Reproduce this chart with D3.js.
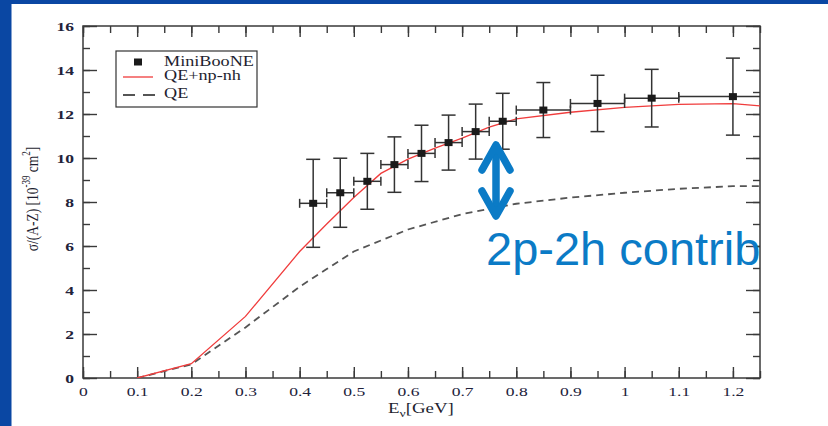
<!DOCTYPE html>
<html><head><meta charset="utf-8">
<script src="https://cdn.jsdelivr.net/npm/d3@7/dist/d3.min.js"></script>
<style>body{margin:0;background:#fff}svg{display:block}</style>
</head><body>
<svg id="c" width="828" height="426"></svg>
<script>
// ---- data ----
const xTicks = [0,0.1,0.2,0.3,0.4,0.5,0.6,0.7,0.8,0.9,1,1.1,1.2];
const yTicks = [0,2,4,6,8,10,12,14,16];
const mbE     = [0.425,0.475,0.525,0.575,0.625,0.675,0.725,0.775,0.85,0.95,1.05,1.2];
const mbLo    = [0.40,0.45,0.50,0.55,0.60,0.65,0.70,0.75,0.80,0.90,1.00,1.10];
const mbHi    = [0.45,0.50,0.55,0.60,0.65,0.70,0.75,0.80,0.90,1.00,1.10,1.30];
const mbSigma = [7.94,8.42,8.94,9.70,10.21,10.70,11.20,11.67,12.18,12.48,12.72,12.79];
const mbErr   = [2.00,1.57,1.27,1.26,1.28,1.25,1.25,1.27,1.25,1.28,1.31,1.75];
const npE     = [0.1,0.2,0.3,0.4,0.45,0.5,0.55,0.6,0.65,0.7,0.75,0.8,0.9,1.0,1.1,1.2,1.25];
const npSigma = [0,0.65,2.8,5.75,7.0,8.2,9.3,9.95,10.45,10.9,11.4,11.78,12.08,12.3,12.44,12.47,12.37];
const qeE     = [0.1,0.2,0.3,0.4,0.45,0.5,0.6,0.7,0.8,0.9,1.0,1.1,1.2,1.25];
const qeSigma = [0,0.62,2.3,4.15,4.95,5.75,6.75,7.45,7.92,8.2,8.42,8.6,8.72,8.72];
const legendLabels = ["MiniBooNE","QE+np-nh","QE"];
const annotation = "2p-2h contrib";

// ---- layout ----
const svg = d3.select("#c");
const L=83,R=760,T=26,B=378, SX=1.3;
const x = d3.scaleLinear().domain([0,1.25]).range([L,R]);
const y = d3.scaleLinear().domain([0,16]).range([B,T]);
const axisCol="#3a3a3a", serif="'Liberation Serif','Times New Roman',serif";

svg.append("rect").attr("width",828).attr("height",426).attr("fill","#fff");
svg.append("rect").attr("x",0).attr("y",0).attr("width",828).attr("height",4).attr("fill","#0a47a3");
svg.append("rect").attr("x",0).attr("y",0).attr("width",11.5).attr("height",426).attr("fill","#0a47a3");

svg.append("defs").append("clipPath").attr("id","pc").append("rect")
  .attr("x",L).attr("y",T).attr("width",R-L).attr("height",B-T);

const minorX = d3.range(0,1.26,0.05), minorY = d3.range(0,16.5,1);
function styleAxis(g){ g.select(".domain").remove(); g.selectAll("line").attr("stroke",axisCol).attr("stroke-width",1.4); }

// bottom
svg.append("g").attr("transform",`translate(0,${B})`).call(d3.axisBottom(x).tickValues(minorX).tickFormat("").tickSize(-7)).call(styleAxis);
const gb = svg.append("g").attr("transform",`translate(0,${B})`).call(d3.axisBottom(x).tickValues(xTicks).tickFormat(d3.format("~g")).tickSize(-11).tickPadding(8)).call(styleAxis);
gb.selectAll("text").attr("font-family",serif).attr("font-size",13.5).attr("fill","#22223a").attr("transform",`scale(${SX},1)`);
// top
svg.append("g").attr("transform",`translate(0,${T})`).call(d3.axisTop(x).tickValues(minorX).tickFormat("").tickSize(-7)).call(styleAxis);
svg.append("g").attr("transform",`translate(0,${T})`).call(d3.axisTop(x).tickValues(xTicks).tickFormat("").tickSize(-11)).call(styleAxis);
// left
svg.append("g").attr("transform",`translate(${L},0)`).call(d3.axisLeft(y).tickValues(minorY).tickFormat("").tickSize(-7)).call(styleAxis);
const gl = svg.append("g").attr("transform",`translate(${L},0)`).call(d3.axisLeft(y).tickValues(yTicks).tickFormat(d3.format("d")).tickSize(-14)).call(styleAxis);
gl.selectAll("text").attr("x",0).attr("font-family",serif).attr("font-size",13.5).attr("font-weight",600).attr("fill","#22223a").attr("transform",`translate(-9,0) scale(${SX},1)`);
// right
svg.append("g").attr("transform",`translate(${R},0)`).call(d3.axisRight(y).tickValues(minorY).tickFormat("").tickSize(-7)).call(styleAxis);
svg.append("g").attr("transform",`translate(${R},0)`).call(d3.axisRight(y).tickValues(yTicks).tickFormat("").tickSize(-14)).call(styleAxis);

svg.append("rect").attr("x",L).attr("y",T).attr("width",R-L).attr("height",B-T)
  .attr("fill","none").attr("stroke",axisCol).attr("stroke-width",1.5);

// curves
const plot = svg.append("g").attr("clip-path","url(#pc)");
const line = d3.line().x(d=>x(d[0])).y(d=>y(d[1]));
plot.append("path").datum(qeE.map((e,i)=>[e,qeSigma[i]])).attr("d",line)
  .attr("fill","none").attr("stroke","#555").attr("stroke-width",1.8).attr("stroke-dasharray","7,5");
plot.append("path").datum(npE.map((e,i)=>[e,npSigma[i]])).attr("d",line)
  .attr("fill","none").attr("stroke","#f03c3c").attr("stroke-width",1.3);

// data points
const pts = mbE.map((e,i)=>({e,lo:mbLo[i],hi:mbHi[i],s:mbSigma[i],err:mbErr[i]}));
const pg = plot.selectAll("g.pt").data(pts).join("g").attr("class","pt")
  .attr("stroke","#333").attr("stroke-width",1.5);
pg.append("line").attr("x1",d=>x(d.e)).attr("x2",d=>x(d.e)).attr("y1",d=>y(d.s-d.err)).attr("y2",d=>y(d.s+d.err));
pg.append("line").attr("x1",d=>x(d.e)-7).attr("x2",d=>x(d.e)+7).attr("y1",d=>y(d.s-d.err)).attr("y2",d=>y(d.s-d.err));
pg.append("line").attr("x1",d=>x(d.e)-7).attr("x2",d=>x(d.e)+7).attr("y1",d=>y(d.s+d.err)).attr("y2",d=>y(d.s+d.err));
pg.append("line").attr("x1",d=>x(d.lo)).attr("x2",d=>x(d.hi)).attr("y1",d=>y(d.s)).attr("y2",d=>y(d.s));
pg.append("line").attr("x1",d=>x(d.lo)).attr("x2",d=>x(d.lo)).attr("y1",d=>y(d.s)-4.5).attr("y2",d=>y(d.s)+4.5);
pg.append("line").attr("x1",d=>x(d.hi)).attr("x2",d=>x(d.hi)).attr("y1",d=>y(d.s)-4.5).attr("y2",d=>y(d.s)+4.5);
pg.append("rect").attr("x",d=>x(d.e)-4).attr("y",d=>y(d.s)-3.5).attr("width",8).attr("height",7)
  .attr("fill","#1a1a1a").attr("stroke","none");

// legend
const lg = svg.append("g");
lg.append("rect").attr("x",116).attr("y",51).attr("width",141).attr("height",56)
  .attr("fill","#fff").attr("stroke","#333").attr("stroke-width",1.2);
lg.append("rect").attr("x",134).attr("y",58.5).attr("width",8).attr("height",7).attr("fill","#1a1a1a");
lg.append("line").attr("x1",123).attr("x2",153).attr("y1",77).attr("y2",77).attr("stroke","#f03c3c").attr("stroke-width",1.3);
lg.append("line").attr("x1",123).attr("x2",155).attr("y1",95).attr("y2",95).attr("stroke","#555").attr("stroke-width",1.8).attr("stroke-dasharray","12,8");
[66,80,98].forEach((yy,i)=>{
  lg.append("text").attr("transform",`translate(164,${yy}) scale(${SX},1)`)
    .attr("font-family",serif).attr("font-size",14).attr("fill","#1e1e30").text(legendLabels[i]);
});

// axis titles
const xt = svg.append("text").attr("transform",`translate(388,413) scale(${SX},1)`)
  .attr("font-family",serif).attr("font-size",14.5).attr("fill","#1e1e30");
xt.append("tspan").text("E");
xt.append("tspan").attr("font-size",10.5).attr("dy",4).text("ν");
xt.append("tspan").attr("dy",-4).text("[GeV]");

const yt = svg.append("text").attr("transform",`translate(38,199) rotate(-90) scale(1,${SX})`)
  .attr("text-anchor","middle").attr("font-family",serif).attr("font-size",13.5).attr("fill","#1e1e30");
yt.append("tspan").text("σ/(A-Z) [10");
yt.append("tspan").attr("font-size",9).attr("dy",-6).text("-39");
yt.append("tspan").attr("dy",6).text(" cm");
yt.append("tspan").attr("font-size",9).attr("dy",-6).text("2");
yt.append("tspan").attr("dy",6).text("]");

// annotation: double arrow and text
const blue="#0b7bc6";
const ax = 496, aTop=145, aBot=216;
const ag = svg.append("g").attr("stroke",blue).attr("stroke-width",7.5).attr("stroke-linecap","round").attr("stroke-linejoin","round").attr("fill","none");
ag.append("line").attr("x1",ax).attr("x2",ax).attr("y1",aTop+3).attr("y2",aBot-3);
ag.append("polyline").attr("points",`${ax-14},${aTop+25} ${ax},${aTop} ${ax+14},${aTop+25}`);
ag.append("polyline").attr("points",`${ax-14},${aBot-25} ${ax},${aBot} ${ax+14},${aBot-25}`);
svg.append("text").attr("x",486).attr("y",265).attr("font-family","'Liberation Sans',Arial,sans-serif")
  .attr("font-size",47).attr("fill",blue).text(annotation);
</script>
</body></html>
